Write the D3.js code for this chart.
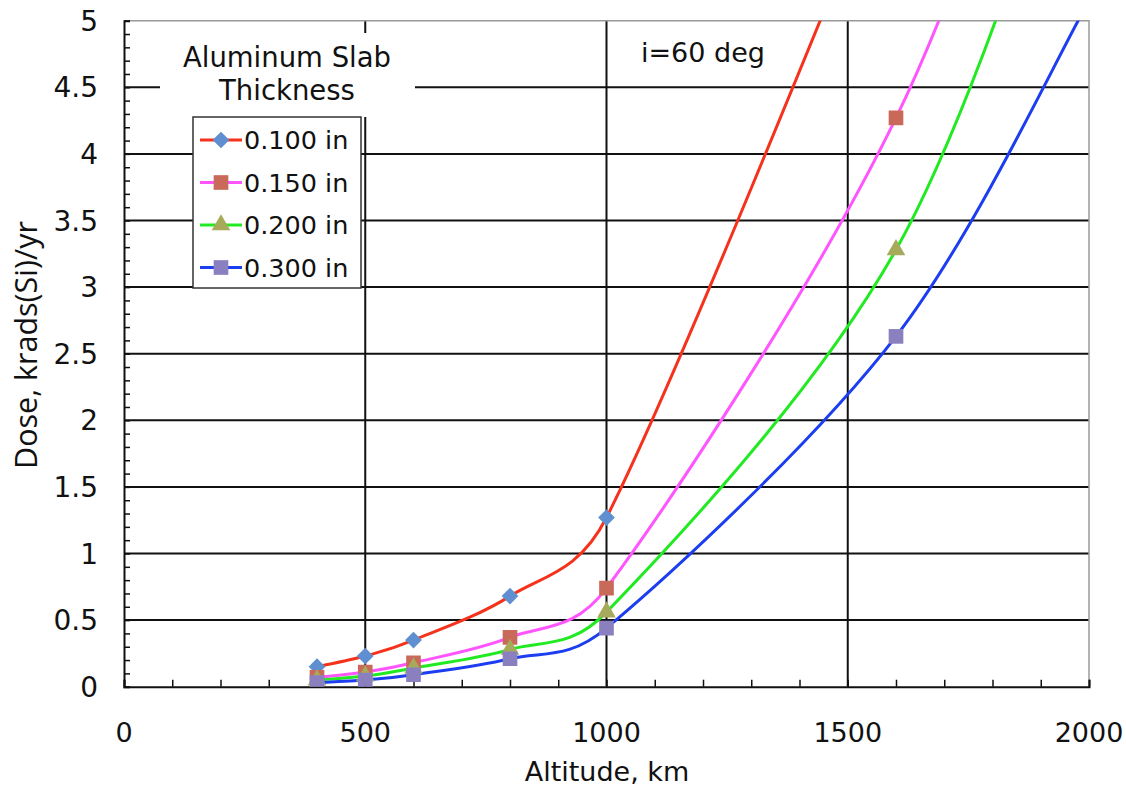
<!DOCTYPE html>
<html>
<head>
<meta charset="utf-8">
<script src="https://cdn.jsdelivr.net/npm/d3@7"></script>
<style>
  body { margin: 0; background: #fff; }
  text { font-family: "DejaVu Sans", Verdana, sans-serif; fill: #111; }
</style>
</head>
<body>
<svg id="chart" width="1126" height="786"></svg>
<script>
// altitudes (km) where the dose was computed
const altitudes = [400, 500, 600, 800, 1000, 1600, 2000];

// dose, krads(Si)/yr, one array per slab thickness
const dose0100 = [0.15, 0.23, 0.35, 0.68, 1.27, 6.4, 10.2];
const dose0150 = [0.07, 0.11, 0.18, 0.37, 0.74, 4.27, 8.2];
const dose0200 = [0.05, 0.08, 0.14, 0.28, 0.56, 3.28, 7.0];
const dose0300 = [0.03, 0.05, 0.09, 0.21, 0.44, 2.63, 5.15];

const seriesNames = ['0.100 in', '0.150 in', '0.200 in', '0.300 in'];
const xTicks = [0, 500, 1000, 1500, 2000];
const yTicks = [0, 0.5, 1, 1.5, 2, 2.5, 3, 3.5, 4, 4.5, 5];

const series = [
  {name: seriesNames[0], values: dose0100, line: '#f5321c', fill: '#5f8fd0', shape: 'diamond'},
  {name: seriesNames[1], values: dose0150, line: '#ff55ff', fill: '#c9695a', shape: 'square'},
  {name: seriesNames[2], values: dose0200, line: '#22ea22', fill: '#a7aa5a', shape: 'triangle'},
  {name: seriesNames[3], values: dose0300, line: '#1c3ef0', fill: '#8a80c0', shape: 'square'}
];

const svg = d3.select('#chart');
const plotLeft = 124, plotTop = 20.7, plotRight = 1089, plotBottom = 686.7;

const x = d3.scaleLinear().domain([0, 2000]).range([plotLeft, plotRight]);
const y = d3.scaleLinear().domain([0, 5]).range([plotBottom, plotTop]);

svg.append('defs').append('clipPath').attr('id', 'plot')
  .append('rect').attr('x', plotLeft).attr('y', plotTop)
  .attr('width', plotRight - plotLeft).attr('height', plotBottom - plotTop);

// gridlines
svg.append('g').selectAll('line').data(yTicks.slice(1, -1)).join('line')
  .attr('x1', plotLeft).attr('x2', plotRight)
  .attr('y1', d => y(d)).attr('y2', d => y(d))
  .attr('stroke', '#111').attr('stroke-width', 2);
svg.append('g').selectAll('line').data(xTicks.slice(1, -1)).join('line')
  .attr('x1', d => x(d)).attr('x2', d => x(d))
  .attr('y1', plotTop).attr('y2', plotBottom)
  .attr('stroke', '#111').attr('stroke-width', 2);

// grey frame top / right
svg.append('path')
  .attr('d', `M${plotLeft},${plotTop}H${plotRight}V${plotBottom}`)
  .attr('fill', 'none').attr('stroke', '#9a9a9a').attr('stroke-width', 1.5);

// axes with minor ticks
const xAxis = d3.axisBottom(x).tickValues(d3.range(0, 2001, 100))
  .tickSize(-7).tickFormat('');
const gx = svg.append('g').attr('transform', `translate(0,${plotBottom})`).call(xAxis);
const yAxis = d3.axisLeft(y).tickValues(d3.range(0, 51).map(d => d / 10))
  .tickSize(-6).tickFormat('');
const gy = svg.append('g').attr('transform', `translate(${plotLeft},0)`).call(yAxis);
[gx, gy].forEach(g => {
  g.select('.domain').attr('stroke', '#111').attr('stroke-width', 2);
  g.selectAll('.tick line').attr('stroke', '#111').attr('stroke-width', 1.5);
});

// tick labels
svg.append('g').selectAll('text').data(xTicks).join('text')
  .attr('x', d => x(d)).attr('y', 742)
  .attr('text-anchor', 'middle').attr('font-size', 27)
  .text(d => d);
svg.append('g').selectAll('text').data(yTicks).join('text')
  .attr('x', 98).attr('y', d => y(d) + 10)
  .attr('text-anchor', 'end').attr('font-size', 28)
  .text(d => d);

// axis titles
svg.append('text').attr('x', 607).attr('y', 781)
  .attr('text-anchor', 'middle').attr('font-size', 27)
  .text('Altitude, km');
svg.append('text')
  .attr('transform', 'translate(37,345) rotate(-90)')
  .attr('text-anchor', 'middle').attr('font-size', 30.5)
  .style('font-family', '"Open Sans", sans-serif')
  .text('Dose, krads(Si)/yr');

// Excel-style smoothed line: Bezier segments whose handles are capped
// at half the segment length, so steep neighbours don't cause overshoot
function ExcelCurve(context) { this._context = context; }
ExcelCurve.prototype = {
  areaStart() {}, areaEnd() {},
  lineStart() { this._pts = []; },
  point(px, py) { this._pts.push([+px, +py]); },
  lineEnd() {
    const p = this._pts, c = this._context, n = p.length;
    if (!n) return;
    c.moveTo(p[0][0], p[0][1]);
    const dist = (a, b) => Math.hypot(b[0] - a[0], b[1] - a[1]);
    for (let i = 0; i < n - 1; i++) {
      const p0 = p[i - 1] || p[i], p1 = p[i], p2 = p[i + 1], p3 = p[i + 2] || p[i + 1];
      const d02 = dist(p0, p2), d12 = dist(p1, p2), d13 = dist(p1, p3);
      let f1 = 1 / 6, f2 = 1 / 6;
      if (d02 / 6 >= d12 / 2) f1 = d12 / d02 / 2;
      if (d13 / 6 >= d12 / 2) f2 = d12 / d13 / 2;
      c.bezierCurveTo(
        p1[0] + (p2[0] - p0[0]) * f1, p1[1] + (p2[1] - p0[1]) * f1,
        p2[0] - (p3[0] - p1[0]) * f2, p2[1] - (p3[1] - p1[1]) * f2,
        p2[0], p2[1]);
    }
  }
};
const excelCurve = context => new ExcelCurve(context);

const line = d3.line()
  .x((d, i) => x(altitudes[i]))
  .y(d => y(d))
  .curve(excelCurve);

const plot = svg.append('g').attr('clip-path', 'url(#plot)');
plot.selectAll('path.series').data(series).join('path')
  .attr('class', 'series')
  .attr('d', s => line(s.values))
  .attr('fill', 'none')
  .attr('stroke', s => s.line)
  .attr('stroke-width', 3);

function marker(shape) {
  if (shape === 'diamond') return d3.symbol(d3.symbolSquare, 140)();
  if (shape === 'triangle') return d3.symbol(d3.symbolTriangle, 150)();
  return d3.symbol(d3.symbolSquare, 215)();
}
function markerTransform(shape, px, py) {
  return shape === 'diamond'
    ? `translate(${px},${py}) rotate(45)`
    : `translate(${px},${py})`;
}

series.forEach(s => {
  const pts = s.values.map((v, i) => ({a: altitudes[i], v}))
    .filter(p => p.v <= 5 && p.a < 2000);
  plot.append('g').selectAll('path').data(pts).join('path')
    .attr('d', marker(s.shape))
    .attr('transform', p => markerTransform(s.shape, x(p.a), y(p.v)))
    .attr('fill', s.fill);
});

// legend title with white backing
svg.append('rect').attr('x', 160).attr('y', 33)
  .attr('width', 255).attr('height', 84).attr('fill', '#fff');
svg.append('text').attr('x', 287).attr('y', 67)
  .attr('text-anchor', 'middle').attr('font-size', 27.5)
  .text('Aluminum Slab');
svg.append('text').attr('x', 287).attr('y', 100)
  .attr('text-anchor', 'middle').attr('font-size', 27.5)
  .text('Thickness');

// legend box
const legend = svg.append('g');
legend.append('rect').attr('x', 193).attr('y', 117)
  .attr('width', 168).attr('height', 171)
  .attr('fill', '#fff').attr('stroke', '#333').attr('stroke-width', 1.5);
const rows = legend.selectAll('g').data(series).join('g')
  .attr('transform', (s, i) => `translate(0,${140 + i * 42.5})`);
rows.append('line').attr('x1', 200).attr('x2', 242)
  .attr('stroke', s => s.line).attr('stroke-width', 3);
rows.append('path')
  .attr('d', s => marker(s.shape))
  .attr('transform', s => markerTransform(s.shape, 221, 0))
  .attr('fill', s => s.fill);
rows.append('text').attr('x', 244).attr('y', 9)
  .attr('font-size', 25.5)
  .text(s => s.name);

// annotation
svg.append('text').attr('x', 641).attr('y', 62)
  .attr('font-size', 27)
  .text('i=60 deg');
</script>
</body>
</html>
